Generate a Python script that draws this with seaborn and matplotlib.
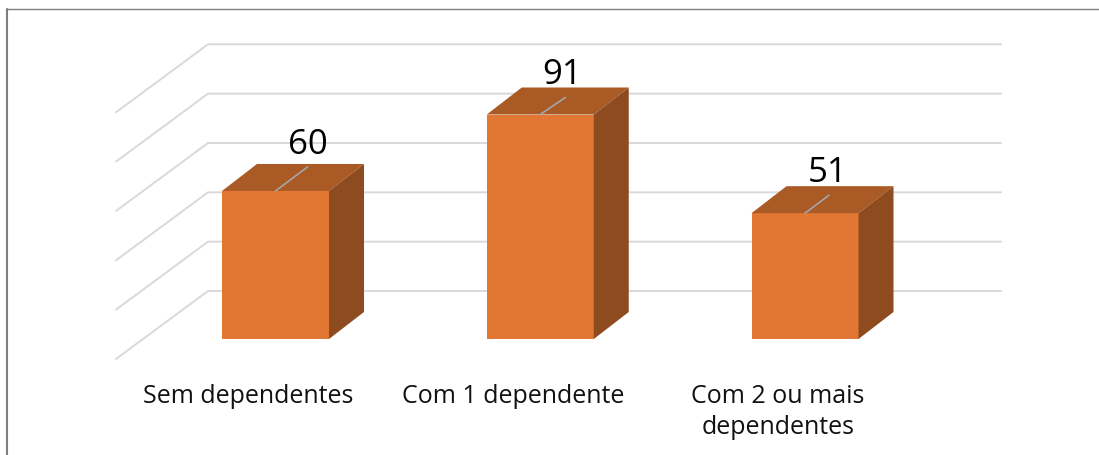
import matplotlib
matplotlib.use("Agg")
import matplotlib.pyplot as plt
import matplotlib.transforms as mtrans
from matplotlib.lines import Line2D
from matplotlib.patches import Polygon
import seaborn as sns

categories = ["Sem dependentes", "Com 1 dependente", "Com 2 ou mais\ndependentes"]
values = [60, 91, 51]
grid_values = [0, 20, 40, 60, 80, 100]

# pixel layout
W, H = 1099, 455
LEFT, RIGHT, TOP, BOTTOM = 116, 1001, 44, 359
BASE_Y = 339          # front edge of bars
PX_PER_UNIT = 2.467
CENTER0, CENTER_STEP = 275.5, 264.75
WALL_DX, WALL_DY = 92, 68
BAR_DX, BAR_DY = 35, 27

# label / leader tweaks per bar, in px
label_dx = [32, 22, 23]
label_dy = [46, 40, 40]
leader_dx = [32, 25, 24]
leader_dy = [24, 17, 18]

FRONT, TOPC, SIDE = "#E27733", "#A95A25", "#8E4B1F"
GRID = "#D9D9D9"

sns.set_theme(style="white")
plt.rcParams["font.family"] = ["Open Sans", "DejaVu Sans"]

fig = plt.figure(figsize=(W / 100, H / 100), dpi=100)
ax = fig.add_axes([LEFT / W, 1 - BOTTOM / H, (RIGHT - LEFT) / W, (BOTTOM - TOP) / H])

sns.barplot(x=categories, y=values, color=FRONT, saturation=1, width=107 / CENTER_STEP,
            linewidth=0, ax=ax, zorder=3)

ax.set_xlim((LEFT - CENTER0) / CENTER_STEP, (RIGHT - CENTER0) / CENTER_STEP)
ax.set_ylim((BASE_Y - BOTTOM) / PX_PER_UNIT, (BASE_Y - TOP) / PX_PER_UNIT)
ax.set_yticks([])
sns.despine(ax=ax, left=True, bottom=True)
ax.patch.set_alpha(0)

ux = 1 / CENTER_STEP    # data units per px
uy = 1 / PX_PER_UNIT

# floor/wall gridlines
for v in grid_values:
    front_y = v + (BASE_Y - BOTTOM) * uy
    back_y = front_y + WALL_DY * uy
    xs = [ax.get_xlim()[0], ax.get_xlim()[0] + WALL_DX * ux, ax.get_xlim()[1]]
    ax.plot(xs, [front_y, back_y, back_y], color=GRID, lw=1.4, zorder=1, clip_on=False)

# depth faces and leaders built from the bars
for i, bar in enumerate(ax.patches):
    x0 = bar.get_x()
    x1 = x0 + bar.get_width()
    h = bar.get_height()
    ddx, ddy = BAR_DX * ux, BAR_DY * uy
    ax.add_patch(Polygon([(x0, h), (x1, h), (x1 + ddx, h + ddy), (x0 + ddx, h + ddy)],
                         fc=TOPC, ec="none", zorder=3))
    ax.add_patch(Polygon([(x1, 0), (x1 + ddx, ddy), (x1 + ddx, h + ddy), (x1, h)],
                         fc=SIDE, ec="none", zorder=3))
    cx = i
    ax.plot([cx, cx + leader_dx[i] * ux], [h, h + leader_dy[i] * uy],
            color="#A6A6A6", lw=1.2, zorder=4)
    ax.text(cx + label_dx[i] * ux, h + label_dy[i] * uy, str(values[i]),
            ha="center", va="center", fontsize=25, color="black", zorder=5)

# category labels sit left of the bar centres
ax.tick_params(axis="x", length=0, pad=17.7, labelsize=18, labelcolor="#111111")
shift = mtrans.ScaledTranslation(-27 / 100, 0, fig.dpi_scale_trans)
for lab in ax.get_xticklabels():
    lab.set_transform(lab.get_transform() + shift)
    lab.set_linespacing(1.36)
ax.set_xlabel("")

# outer frame
fig.add_artist(Line2D([7 / W, 7 / W], [0, 1 - 9 / H], color="#7F7F7F", lw=1.5))
fig.add_artist(Line2D([6 / W, 1], [1 - 9.2 / H, 1 - 9.2 / H], color="#7F7F7F", lw=1))

fig.savefig("out.png", dpi=100)
